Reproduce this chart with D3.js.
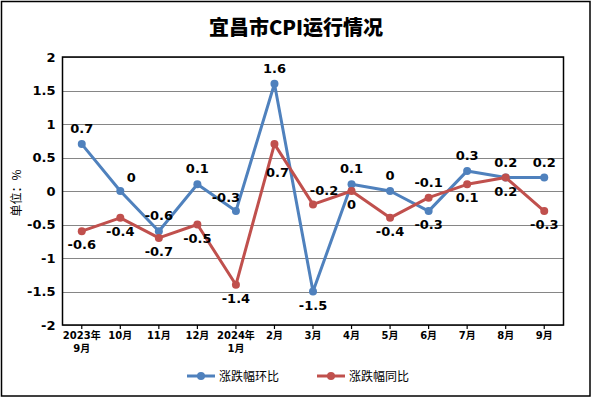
<!DOCTYPE html>
<html>
<head>
<meta charset="utf-8">
<script src="https://cdn.jsdelivr.net/npm/d3@7"></script>
<style>
  body { margin: 0; background: #fff; }
  svg { display: block; }
  text { font-family: "DejaVu Sans", "Noto Sans CJK SC", sans-serif; }
</style>
</head>
<body>
<svg id="chart"></svg>
<script>
const months = ["2023年\n9月", "10月", "11月", "12月", "2024年\n1月", "2月", "3月", "4月", "5月", "6月", "7月", "8月", "9月"];
const momValues = [0.7, 0, -0.6, 0.1, -0.3, 1.6, -1.5, 0.1, 0, -0.3, 0.3, 0.2, 0.2];
const yoyValues = [-0.6, -0.4, -0.7, -0.5, -1.4, 0.7, -0.2, 0, -0.4, -0.1, 0.1, 0.2, -0.3];
const yTicks = [2, 1.5, 1, 0.5, 0, -0.5, -1, -1.5, -2];
const seriesNames = ["涨跌幅环比", "涨跌幅同比"];

// where each data label sits relative to its point
const momPlace = ["t", "tr", "t", "t", "tl", "t", "b", "t", "t", "b", "t", "t", "t"];
const yoyPlace = ["b", "b", "b", "b", "b", "bb", "tr", "b", "b", "t", "b", "b", "b"];

const width = 592;
const height = 398;
const plot = { left: 62.5, right: 563.5, top: 57, bottom: 325 };
const colors = ["#4F81BD", "#C0504D"];

// plain hyphen minus, as in the original
const fmt = (d) => String(d);

const svg = d3.select("#chart").attr("width", width).attr("height", height);

svg.append("rect")
  .attr("x", 1.5).attr("y", 1.5)
  .attr("width", width - 3.5).attr("height", height - 3.5)
  .attr("fill", "#fff").attr("stroke", "#000").attr("stroke-width", 1.5);

svg.append("text")
  .attr("x", 296).attr("y", 35)
  .attr("text-anchor", "middle")
  .style("font-family", "'Noto Sans CJK SC', serif")
  .style("font-weight", 900)
  .style("font-size", "20px")
  .text("宜昌市CPI运行情况");

const xScale = d3.scaleBand().domain(d3.range(months.length)).range([plot.left, plot.right]);
const yScale = d3.scaleLinear().domain([-2, 2]).range([plot.bottom, plot.top]);
const cx = (i) => xScale(i) + xScale.bandwidth() / 2;

// gridlines
svg.append("g")
  .selectAll("line")
  .data(yTicks)
  .enter()
  .append("line")
  .attr("x1", plot.left).attr("x2", plot.right)
  .attr("y1", (d) => Math.round(yScale(d)) + 0.5)
  .attr("y2", (d) => Math.round(yScale(d)) + 0.5)
  .attr("stroke", "#868686").attr("stroke-width", 1);

// plot border
svg.append("rect")
  .attr("x", plot.left).attr("y", plot.top)
  .attr("width", plot.right - plot.left).attr("height", plot.bottom - plot.top)
  .attr("fill", "none").attr("stroke", "#000").attr("stroke-width", 1.5);

const yAxis = d3.axisLeft(yScale).tickValues(yTicks).tickSize(0).tickPadding(7).tickFormat(fmt);
const yG = svg.append("g").attr("transform", "translate(" + plot.left + ",0)").call(yAxis);
yG.select(".domain").remove();
yG.selectAll("text")
  .style("font-size", "13px").style("font-weight", "bold").attr("fill", "#000");

const xAxis = d3.axisBottom(xScale).tickSize(4).tickFormat(() => "");
const xG = svg.append("g").attr("transform", "translate(0," + plot.bottom + ")").call(xAxis);
xG.select(".domain").remove();
xG.selectAll("line").attr("stroke", "#000").attr("stroke-width", 1.2);

xG.selectAll(".tick")
  .append("text")
  .attr("fill", "#000")
  .attr("text-anchor", "middle")
  .style("font-size", "10px")
  .style("font-weight", "bold")
  .style("font-family", "'DejaVu Sans', 'Noto Sans CJK SC', sans-serif")
  .each(function (d) {
    const parts = months[d].split("\n");
    d3.select(this)
      .selectAll("tspan")
      .data(parts)
      .enter()
      .append("tspan")
      .attr("x", 0)
      .attr("y", (p, k) => 14 + k * 13)
      .text((p) => p);
  });

svg.append("text")
  .attr("transform", "translate(21,193) rotate(-90)")
  .attr("text-anchor", "middle")
  .style("font-size", "12px")
  .style("font-family", "'Noto Sans CJK SC', sans-serif")
  .text("单位：%");

const line = d3.line().x((d, i) => cx(i)).y((d) => yScale(d));

const drawSeries = (values, color, places) => {
  svg.append("path")
    .datum(values)
    .attr("d", line)
    .attr("fill", "none")
    .attr("stroke", color)
    .attr("stroke-width", 3)
    .attr("stroke-linejoin", "round");

  svg.append("g")
    .selectAll("circle")
    .data(values)
    .enter()
    .append("circle")
    .attr("cx", (d, i) => cx(i))
    .attr("cy", (d) => yScale(d))
    .attr("r", 4)
    .attr("fill", color);

  svg.append("g")
    .selectAll("text")
    .data(values)
    .enter()
    .append("text")
    .attr("x", (d, i) => {
      const p = places[i];
      if (p === "tr") return cx(i) + 11;
      if (p === "tl") return cx(i) - 10;
      if (p === "bb") return cx(i) + 3;
      return cx(i);
    })
    .attr("y", (d, i) => {
      const p = places[i];
      if (p === "b") return yScale(d) + 18;
      if (p === "bb") return yScale(d) + 33;
      if (p === "tr" || p === "tl") return yScale(d) - 9;
      return yScale(d) - 11;
    })
    .attr("text-anchor", "middle")
    .style("font-size", "13px")
    .style("font-weight", "bold")
    .text(fmt);
};

drawSeries(momValues, colors[0], momPlace);
drawSeries(yoyValues, colors[1], yoyPlace);

// legend
const legendX = [187, 317];
const legend = svg.append("g")
  .selectAll("g")
  .data(seriesNames)
  .enter()
  .append("g")
  .attr("transform", (d, i) => "translate(" + legendX[i] + ",376)");

legend.append("line")
  .attr("x1", 0).attr("x2", 28)
  .attr("stroke", (d, i) => colors[i]).attr("stroke-width", 3);
legend.append("circle")
  .attr("cx", 14).attr("r", 4)
  .attr("fill", (d, i) => colors[i]);
legend.append("text")
  .attr("x", 32).attr("y", 4.5)
  .style("font-size", "12px")
  .style("font-family", "'Noto Sans CJK SC', sans-serif")
  .text((d) => d);
</script>
</body>
</html>
